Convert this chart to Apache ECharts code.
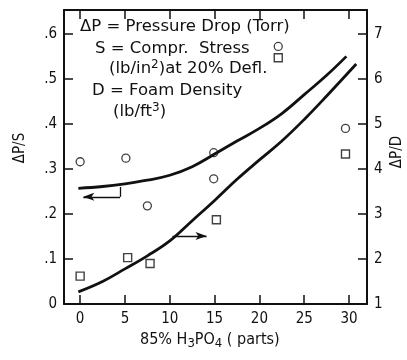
<!DOCTYPE html>
<html>
<head>
<meta charset="utf-8">
<script src="https://cdn.jsdelivr.net/npm/echarts@6/dist/echarts.min.js"></script>
<style>
html,body{margin:0;padding:0;background:#fff;}
#c{width:407px;height:360px;}
</style>
</head>
<body>
<div id="c"></div>
<script>
// Tick labels
const xTicks = [0, 5, 10, 15, 20, 25, 30];
const leftTicks = [0, 0.1, 0.2, 0.3, 0.4, 0.5, 0.6];
const rightTicks = [1, 2, 3, 4, 5, 6, 7];
// Circles: ΔP/S (left axis)
const xCircle = [0, 5.1, 7.5, 14.9, 14.9, 22.1, 29.6];
const yCircle = [0.316, 0.324, 0.218, 0.336, 0.278, 0.572, 0.39];
// Squares: ΔP/D (right axis)
const xSquare = [0, 5.3, 7.8, 15.2, 22.1, 29.6];
const ySquare = [1.62, 2.03, 1.90, 2.87, 6.47, 4.33];
// Fitted curve ΔP/S (left axis)
const xCurveS = [-0.2, 2.5, 5, 7.5, 10, 12.5, 15, 17.5, 20, 22.5, 25, 27.5, 29.7];
const yCurveS = [0.257, 0.261, 0.267, 0.275, 0.286, 0.305, 0.333, 0.362, 0.39, 0.423, 0.465, 0.508, 0.55];
// Fitted curve ΔP/D (right axis)
const xCurveD = [-0.2, 2.5, 5, 7.5, 10, 12.5, 15, 17.5, 20, 22.5, 25, 27.5, 30.8];
const yCurveD = [1.27, 1.5, 1.78, 2.07, 2.4, 2.85, 3.3, 3.77, 4.2, 4.62, 5.1, 5.62, 6.33];
// Annotation arrows
const arrowSx = [4.45, 4.45, 0.35];
const arrowSy = [0.26, 0.238, 0.238];
const arrowDx = [10.3, 14.1];
const arrowDy = [2.51, 2.51];

const FONT = '"DejaVu Sans Condensed","Liberation Sans Narrow","Roboto Condensed","DejaVu Sans",sans-serif';
const FONTW = '"DejaVu Sans",sans-serif';
const INK = '#111';

const zip = (a, b) => a.map((v, i) => [v, b[i]]);

const chart = echarts.init(document.getElementById('c'), null, {renderer: 'canvas'});

const xCommon = {
  type: 'value', min: -1.8, max: 32,
  axisLine: {show: true, onZero: false, lineStyle: {color: INK, width: 2}},
  splitLine: {show: false},
  axisTick: {inside: true, length: 9, lineStyle: {color: INK, width: 1.5}, customValues: xTicks},
};

const option = {
  backgroundColor: '#fff',
  animation: false,
  grid: {left: 64, right: 40, top: 10, bottom: 56, containLabel: false},
  xAxis: [
    Object.assign({}, xCommon, {
      position: 'bottom',
      axisLabel: {customValues: xTicks, color: INK, fontFamily: FONT, fontSize: 15, margin: 8},
    }),
    Object.assign({}, xCommon, {
      position: 'top',
      axisLabel: {show: false},
    })
  ],
  yAxis: [
    {
      type: 'value', min: 0, max: 0.653, position: 'left',
      axisLine: {show: true, onZero: false, lineStyle: {color: INK, width: 2}},
      splitLine: {show: false},
      axisTick: {inside: true, length: 9, lineStyle: {color: INK, width: 1.5}, customValues: leftTicks.slice(1)},
      axisLabel: {
        customValues: leftTicks, color: INK, fontFamily: FONT, fontSize: 15, margin: 7,
        formatter: v => v === 0 ? '0' : '.' + Math.round(v * 10)
      }
    },
    {
      type: 'value', min: 1, max: 7.53, position: 'right',
      axisLine: {show: true, onZero: false, lineStyle: {color: INK, width: 2}},
      splitLine: {show: false},
      axisTick: {inside: true, length: 9, lineStyle: {color: INK, width: 1.5}, customValues: rightTicks.slice(1)},
      axisLabel: {customValues: rightTicks, color: INK, fontFamily: FONT, fontSize: 15, margin: 7}
    }
  ],
  series: [
    {
      type: 'line', xAxisIndex: 0, yAxisIndex: 0, data: zip(xCurveS, yCurveS),
      smooth: 0.4, showSymbol: false, symbol: 'none',
      lineStyle: {color: INK, width: 2.8},
      markLine: {
        silent: true, animation: false,
        lineStyle: {color: INK, width: 1.3, type: 'solid'},
        label: {show: false},
        data: [
          [{coord: [arrowSx[0], arrowSy[0]], symbol: 'none'}, {coord: [arrowSx[1], arrowSy[1]], symbol: 'none'}],
          [{coord: [arrowSx[1], arrowSy[1]], symbol: 'none'}, {coord: [arrowSx[2], arrowSy[2]], symbol: 'arrow', symbolSize: [6, 11]}]
        ]
      }
    },
    {
      type: 'line', xAxisIndex: 0, yAxisIndex: 1, data: zip(xCurveD, yCurveD),
      smooth: 0.4, showSymbol: false, symbol: 'none',
      lineStyle: {color: INK, width: 2.8},
      markLine: {
        silent: true, animation: false,
        lineStyle: {color: INK, width: 1.3, type: 'solid'},
        label: {show: false},
        data: [
          [{coord: [arrowDx[0], arrowDy[0]], symbol: 'none'}, {coord: [arrowDx[1], arrowDy[1]], symbol: 'arrow', symbolSize: [6, 11]}]
        ]
      }
    },
    {
      type: 'scatter', xAxisIndex: 0, yAxisIndex: 0, data: zip(xCircle, yCircle),
      symbol: 'circle', symbolSize: 8,
      itemStyle: {color: '#fff', borderColor: INK, borderWidth: 1.3}
    },
    {
      type: 'scatter', xAxisIndex: 0, yAxisIndex: 1, data: zip(xSquare, ySquare),
      symbol: 'rect', symbolSize: 8,
      itemStyle: {color: '#fff', borderColor: INK, borderWidth: 1.4}
    }
  ],
  graphic: [
    {type: 'text', left: 80, top: 18, style: {text: 'ΔP = Pressure Drop (Torr)', font: '16.5px ' + FONTW, fill: INK}},
    {type: 'text', left: 95, top: 40, style: {text: 'S = Compr.  Stress', font: '16.5px ' + FONTW, fill: INK}},
    {type: 'text', left: 109, top: 59, style: {
      text: '(lb/in{sup|2})at 20% Defl.', font: '16.5px ' + FONTW, fill: INK,
      rich: {sup: {font: '12px ' + FONTW, fill: INK, verticalAlign: 'top', padding: [0, 0, 7, 0]}}
    }},
    {type: 'text', left: 92, top: 82, style: {text: 'D = Foam Density', font: '16.5px ' + FONTW, fill: INK}},
    {type: 'text', left: 113, top: 102, style: {
      text: '(lb/ft{sup|3})', font: '16.5px ' + FONTW, fill: INK,
      rich: {sup: {font: '12px ' + FONTW, fill: INK, verticalAlign: 'top', padding: [0, 0, 7, 0]}}
    }},
    {type: 'text', left: 140, top: 332, style: {
      text: '85% H{sub|3}PO{sub|4} ( parts)', font: '16px ' + FONT, fill: INK,
      rich: {sub: {font: '13px ' + FONT, fill: INK, padding: [8, 0, 0, 0]}}
    }},
    {type: 'text', x: 20, y: 148, rotation: Math.PI / 2, style: {
      text: 'ΔP/S', font: '15px ' + FONT, fill: INK, align: 'center', verticalAlign: 'middle'
    }},
    {type: 'text', x: 397, y: 152, rotation: Math.PI / 2, style: {
      text: 'ΔP/D', font: '15px ' + FONT, fill: INK, align: 'center', verticalAlign: 'middle'
    }}
  ]
};
chart.setOption(option);
</script>
</body>
</html>
